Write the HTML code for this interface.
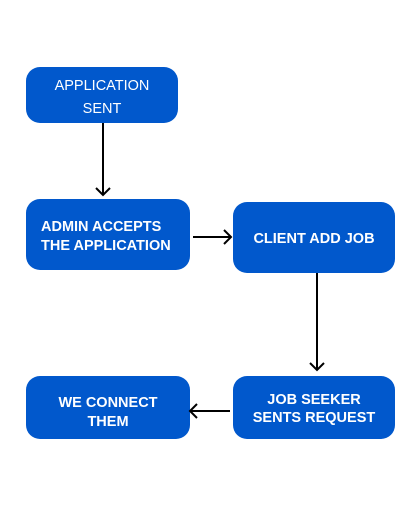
<!DOCTYPE html>
<html><head><style>
body{margin:0;width:420px;height:510px;background:#fff;position:relative;overflow:hidden;font-family:"Liberation Sans",sans-serif}
.b{position:absolute;background:#0158cc;border-radius:14px;color:#fff;display:flex;flex-direction:column;align-items:center;justify-content:center;text-align:center;font-weight:bold;font-size:14.5px;line-height:18.5px;box-sizing:border-box}
</style></head><body>
<div class="b" style="left:26px;top:67px;width:152px;height:56px;font-weight:normal;font-size:14.5px;line-height:23px;padding-top:6px">APPLICATION<br>SENT</div>
<div class="b" style="left:26px;top:199px;width:164px;height:71px;align-items:flex-start;padding-left:15px;padding-top:4px;text-align:left">ADMIN ACCEPTS<br>THE APPLICATION</div>
<div class="b" style="left:233px;top:202px;width:162px;height:71px;padding-top:4px">CLIENT ADD JOB</div>
<div class="b" style="left:26px;top:376px;width:164px;height:63px;padding-top:10px">WE CONNECT<br>THEM</div>
<div class="b" style="left:233px;top:376px;width:162px;height:63px;padding-top:3px">JOB SEEKER<br>SENTS REQUEST</div>
<svg width="420" height="510" style="position:absolute;left:0;top:0" fill="none" stroke="#000" stroke-width="2">
<path d="M103 123V195M96 188l7 7 7-7"/>
<path d="M193 237H231M224 230l7 7-7 7"/>
<path d="M317 273V370M310 363l7 7 7-7"/>
<path d="M230 411H190M197 404l-7 7 7 7"/>
</svg>
</body></html>
